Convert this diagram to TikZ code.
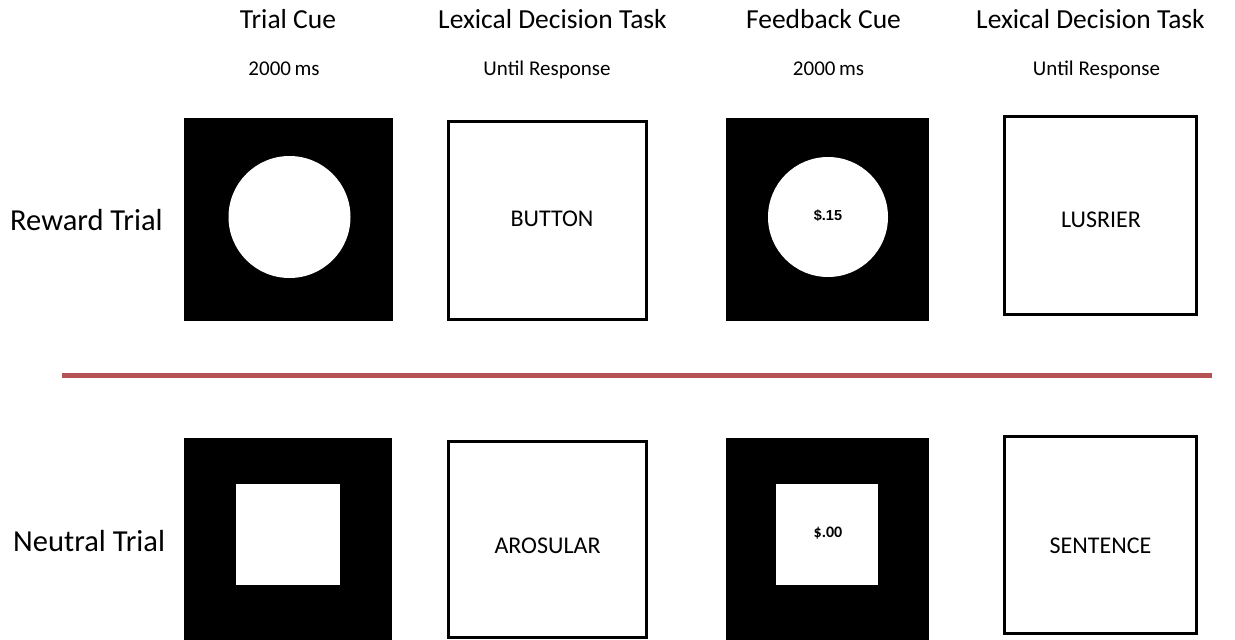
\documentclass[tikz,border=0pt]{standalone}
\usepackage{fontspec}
\setmainfont{Carlito}
\newfontfamily\arialfont{Liberation Sans}
\definecolor{sepred}{RGB}{180,82,86}
\begin{document}
\begin{tikzpicture}[x=1pt,y=-1pt,
  blackbox/.style={draw=none,fill=black,inner sep=0pt,outer sep=0pt},
  whitebox/.style={draw=black,line width=2.6pt,fill=white,inner sep=0pt,outer sep=0pt},
  whitedisc/.style={circle,fill=white,draw=none,inner sep=0pt},
  whitesq/.style={rectangle,fill=white,draw=none,inner sep=0pt},
  head/.style={anchor=base,inner sep=0pt,font=\fontsize{27.5}{32}\selectfont},
  sub/.style={anchor=base,inner sep=0pt,font=\fontsize{21}{25}\selectfont},
  rowlab/.style={anchor=base west,inner sep=0pt,font=\fontsize{30.5}{36}\selectfont},
  word/.style={inner sep=0pt,font=\fontsize{24}{28}\selectfont},
  money/.style={inner sep=0pt}]
\useasboundingbox (0,0) rectangle (1235,640);
\fill[white] (0,0) rectangle (1235,640);

% headers
\node[head] (h1) at (288,28) {Trial Cue};
\node[head] (h2) at (552.5,28) {Lexical Decision Task};
\node[head] (h3) at (823.5,28) {Feedback Cue};
\node[head] (h4) at (1090.5,28) {Lexical Decision Task};
\node[sub] (s1) at (284,75) {2000\,ms};
\node[sub] (s2) at (547,75) {Until Response};
\node[sub] (s3) at (828.5,75) {2000\,ms};
\node[sub] (s4) at (1096.5,75) {Until Response};

% row labels
\node[rowlab] (lr) at (10,230) {Reward Trial};
\node[rowlab] (ln) at (13,551) {Neutral Trial};

% reward row
\node[blackbox,minimum width=209,minimum height=203] (r1) at (288.5,219.5) {};
\node[whitedisc,minimum size=122] (r1c) at (289.5,217) {};
\node[whitebox,minimum width=198.5,minimum height=197.5] (r2) at (547.5,220.5) {};
\node[word] (w2) at (552,219) {BUTTON};
\node[blackbox,minimum width=203,minimum height=203] (r3) at (827.5,219.5) {};
\node[whitedisc,minimum size=120] (r3c) at (828,217) {};
\node[money,font=\arialfont\bfseries\fontsize{14.5}{17}\selectfont] (m3) at (828,215.5) {\$.15};
\node[whitebox,minimum width=192.5,minimum height=198.5] (r4) at (1100.5,215.5) {};
\node[word] (w4) at (1101,220) {LUSRIER};

% separator
\coordinate (sepL) at (62,375);
\coordinate (sepR) at (1212,375);
\draw[sepred,line width=5pt] (sepL) -- (sepR);

% neutral row
\node[blackbox,minimum width=208,minimum height=206] (n1) at (288,541) {};
\node[whitesq,minimum width=104,minimum height=101] (n1s) at (288,534.5) {};
\node[whitebox,minimum width=198.5,minimum height=195.5] (n2) at (547.5,539.5) {};
\node[word] (w6) at (547.5,545.5) {AROSULAR};
\node[blackbox,minimum width=203,minimum height=206] (n3) at (827.5,541) {};
\node[whitesq,minimum width=102,minimum height=101] (n3s) at (827,534.5) {};
\node[money,font=\bfseries\fontsize{16}{19}\selectfont] (m7) at (828,533.5) {\$.00};
\node[whitebox,minimum width=192.5,minimum height=197.5] (n4) at (1100.5,535) {};
\node[word] (w8) at (1100.5,546) {SENTENCE};
\end{tikzpicture}
\end{document}
